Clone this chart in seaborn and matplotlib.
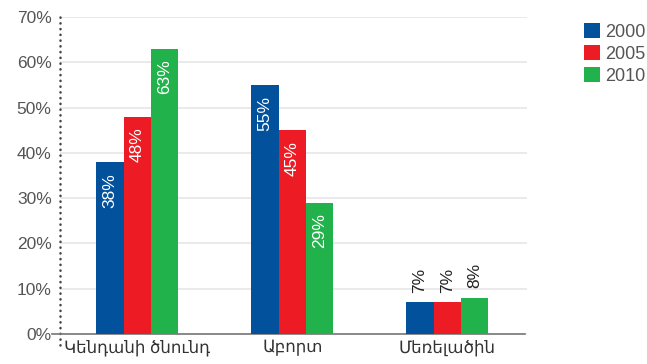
import pandas as pd
import numpy as np
import matplotlib.pyplot as plt
import seaborn as sns
from matplotlib.patches import Patch

categories = ['Կենդանի ծնունդ', 'Աբորտ', 'Մեռելածին']
years = ['2000', '2005', '2010']
vals_2000 = [38, 55, 7]
vals_2005 = [48, 45, 7]
vals_2010 = [63, 29, 8]
colors = ['#02519C', '#ED1C24', '#22B24C']

sns.set_theme(style='white')
plt.rcParams['font.family'] = ['Liberation Sans', 'DejaVu Sans']

df = pd.DataFrame({
    'cat': categories * 3,
    'year': [y for y in years for _ in categories],
    'val': vals_2000 + vals_2005 + vals_2010,
})

fig = plt.figure(figsize=(6.47, 3.64), dpi=100)
ax = fig.add_axes([60 / 647, 1 - 334 / 364, (527 - 60) / 647, (334 - 17) / 364])

sns.barplot(data=df, x='cat', y='val', hue='year', palette=colors,
            width=0.53, saturation=1, ax=ax, legend=False, zorder=3,
            linewidth=0, edgecolor='none')

ax.set_xlim(-0.5, 2.515)
ax.set_ylim(0, 70)
ax.set_yticks(range(0, 71, 10))
ax.set_yticklabels([f'{v}%' for v in range(0, 71, 10)], color='#555555', fontsize=12.5)
ax.set_xticks(range(3))
ax.set_xticklabels(categories, color='#333333', fontsize=12)
ax.set_xlabel('')
ax.set_ylabel('')
ax.set_xticks([0.5, 1.5, 2.5], minor=True)
ax.tick_params(axis='x', which='major', length=0, pad=4)
ax.tick_params(axis='x', which='minor', length=6, width=1.5, color='#dddddd', direction='out')
ax.tick_params(axis='y', length=0, pad=6)

ax.yaxis.grid(True, color='#e6e6e6', lw=1.2, zorder=0)
for s in ['top', 'right']:
    ax.spines[s].set_visible(False)
ax.spines['left'].set_linestyle((0, (0.1, 2.2)))
ax.spines['left'].set_capstyle('round')
ax.spines['left'].set_color('#444444')
ax.spines['left'].set_linewidth(1.8)
ax.spines['left'].set_bounds(-2.5, 70)
ax.spines['left'].set_clip_on(False)
ax.spines['bottom'].set_color('#777777')
ax.spines['bottom'].set_linewidth(1.2)
ax.spines['bottom'].set_bounds(-0.55, 2.5)

for cont in ax.containers:
    for bar in cont:
        h = bar.get_height()
        x = bar.get_x() + bar.get_width() / 2
        if h >= 15:
            ax.text(x, h - 2.4, f'{h:.0f}%', rotation=90, ha='center', va='top',
                    color='white', fontsize=12.5, zorder=4)
        else:
            ax.text(x, h + 2.1, f'{h:.0f}%', rotation=90, ha='center', va='bottom',
                    color='#222222', fontsize=12.5, zorder=4)

handles = [Patch(facecolor=c, edgecolor='none') for c in colors]
fig.legend(handles, years, loc='upper left', bbox_to_anchor=(577 / 647, 1 - 16 / 364),
           frameon=False, fontsize=13, labelcolor='#555555', handlelength=0.85,
           handleheight=0.85, handletextpad=0.3, labelspacing=0.25, borderaxespad=0)

fig.savefig('out.png', dpi=100)
